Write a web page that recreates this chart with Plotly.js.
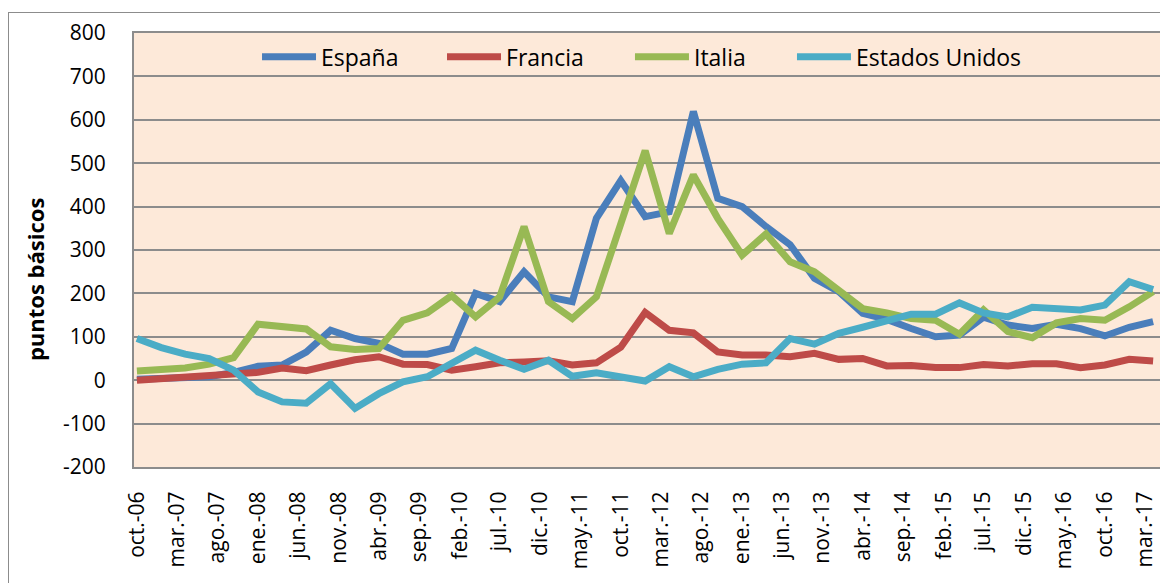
<!DOCTYPE html>
<html>
<head>
<meta charset="utf-8">
<script src="https://cdn.plot.ly/plotly-3.0.1.min.js"></script>
<style>
  html, body { margin: 0; padding: 0; background: #fff; overflow: hidden; }
  #chart { width: 1160px; height: 583px; }
  #frame { position: absolute; left: 8px; top: 12px; width: 1200px; height: 640px;
           border: 1px solid #8c8c8c; pointer-events: none; }
</style>
</head>
<body>
<div id="chart"></div>
<div id="frame"></div>
<script>
// Quarterly observations
const dates = [
  "2006-10-01","2007-01-01","2007-04-01","2007-07-01","2007-10-01",
  "2008-01-01","2008-04-01","2008-07-01","2008-10-01",
  "2009-01-01","2009-04-01","2009-07-01","2009-10-01",
  "2010-01-01","2010-04-01","2010-07-01","2010-10-01",
  "2011-01-01","2011-04-01","2011-07-01","2011-10-01",
  "2012-01-01","2012-04-01","2012-07-01","2012-10-01",
  "2013-01-01","2013-04-01","2013-07-01","2013-10-01",
  "2014-01-01","2014-04-01","2014-07-01","2014-10-01",
  "2015-01-01","2015-04-01","2015-07-01","2015-10-01",
  "2016-01-01","2016-04-01","2016-07-01","2016-10-01",
  "2017-01-01","2017-04-01"
];

const espana = [2, 3, 5, 8, 18, 32, 35, 65, 115, 96, 85, 60, 60, 73, 200, 181, 250, 192, 181, 373, 460,
  377, 388, 619, 419, 400, 354, 312, 235, 204, 154, 140, 119, 100, 104, 145, 127, 119, 129, 119, 102, 122, 135];

const francia = [0, 4, 7, 10, 13, 18, 28, 22, 35, 47, 54, 37, 36, 23, 31, 40, 42, 45, 35, 40, 76,
  156, 115, 109, 65, 58, 58, 54, 62, 48, 50, 33, 34, 29, 29, 36, 33, 38, 38, 29, 35, 48, 44];

const italia = [21, 23, 28, 37, 52, 129, 123, 118, 77, 71, 73, 138, 155, 195, 146, 192, 354, 181, 142, 192, 360,
  529, 338, 473, 373, 288, 337, 273, 250, 208, 165, 155, 142, 138, 106, 162, 112, 98, 132, 142, 138, 169, 204];

const eeuu = [96, 75, 60, 50, 23, -27, -50, -53, -8, -65, -31, -4, 8, 38, 69, 46, 25, 46, 9, 17, 8,
  -2, 31, 8, 25, 37, 40, 96, 83, 108, 122, 135, 152, 152, 178, 155, 146, 168, 165, 162, 173, 227, 209];

const seriesNames = ["España", "Francia", "Italia", "Estados Unidos"];
const seriesColors = ["#4A7EBB", "#BE4B48", "#98B954", "#4BACC6"];

const tickDates = [
  "2006-10-01","2007-03-01","2007-08-01","2008-01-01","2008-06-01","2008-11-01",
  "2009-04-01","2009-09-01","2010-02-01","2010-07-01","2010-12-01","2011-05-01",
  "2011-10-01","2012-03-01","2012-08-01","2013-01-01","2013-06-01","2013-11-01",
  "2014-04-01","2014-09-01","2015-02-01","2015-07-01","2015-12-01","2016-05-01",
  "2016-10-01","2017-03-01"
];
const tickLabels = [
  "oct.-06","mar.-07","ago.-07","ene.-08","jun.-08","nov.-08",
  "abr.-09","sep.-09","feb.-10","jul.-10","dic.-10","may.-11",
  "oct.-11","mar.-12","ago.-12","ene.-13","jun.-13","nov.-13",
  "abr.-14","sep.-14","feb.-15","jul.-15","dic.-15","may.-16",
  "oct.-16","mar.-17"
];

const yTickVals = [-200, -100, 0, 100, 200, 300, 400, 500, 600, 700, 800];
const yTickText = ["-200", "-100", "0", "100", "200", "300", "400", "500", "600", "700", "800"];

const yTitle = "puntos básicos";

const legendIds = ["legend", "legend2", "legend3", "legend4"];
const allValues = [espana, francia, italia, eeuu];
const traces = allValues.map((vals, i) => ({
  type: "scatter",
  mode: "lines",
  x: dates,
  y: vals,
  name: seriesNames[i],
  legend: legendIds[i],
  line: { color: seriesColors[i], width: 7 },
  hoverinfo: "x+y+name"
}));

const font = "Open Sans, Noto Sans, sans-serif";
function legendAt(xPaper) {
  return {
    orientation: "h",
    x: xPaper, xanchor: "left",
    y: 0.945, yanchor: "middle",
    bgcolor: "rgba(0,0,0,0)",
    font: { family: font, size: 23, color: "#000" },
    itemwidth: 54
  };
}

const layout = {
  width: 1160,
  height: 583,
  margin: { l: 134, r: 0, t: 33, b: 116 },
  paper_bgcolor: "#ffffff",
  plot_bgcolor: "#FDE9D9",
  font: { family: font, size: 21, color: "#000" },
  showlegend: true,
  legend: legendAt(0.1199),
  legend2: legendAt(0.3002),
  legend3: legendAt(0.4834),
  legend4: legendAt(0.6413),
  xaxis: {
    type: "date",
    range: ["2006-09-20", "2017-04-27"],
    tickmode: "array",
    tickvals: tickDates,
    ticktext: tickLabels,
    tickangle: -90,
    ticks: "outside",
    ticklen: 14,
    tickcolor: "rgba(0,0,0,0)",
    showgrid: false,
    showline: true,
    linecolor: "#8c8c8c",
    linewidth: 2,
    mirror: true,
    tickfont: { family: font, size: 21, color: "#000" }
  },
  yaxis: {
    range: [-200, 800],
    tickmode: "array",
    tickvals: yTickVals,
    ticktext: yTickText,
    showgrid: true,
    gridcolor: "#8c8c8c",
    gridwidth: 2,
    zeroline: false,
    showline: true,
    linecolor: "#8c8c8c",
    linewidth: 2,
    mirror: true,
    ticks: "outside",
    ticklen: 22,
    tickcolor: "rgba(0,0,0,0)",
    tickfont: { family: font, size: 21, color: "#000" }
  },
  annotations: [{
    text: "<b>" + yTitle + "</b>",
    xref: "paper", yref: "paper",
    x: -0.0965, y: 0.433,
    xanchor: "center", yanchor: "middle",
    textangle: -90,
    showarrow: false,
    font: { family: font, size: 22, color: "#000" }
  }]
};

Plotly.newPlot("chart", traces, layout, { displayModeBar: false, staticPlot: true });
</script>
</body>
</html>
